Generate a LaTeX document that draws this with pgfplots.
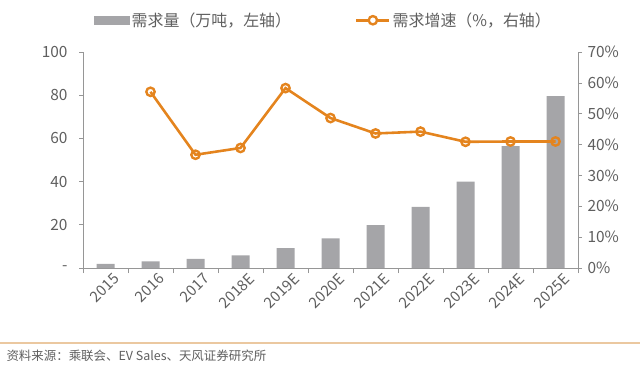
\documentclass[border=0pt]{standalone}
\usepackage{pgfplots}
\pgfplotsset{compat=1.18}
\usepackage{fontspec}
\setmainfont{Noto Sans CJK SC}
\definecolor{barGray}{RGB}{165,165,168}
\definecolor{lineOrange}{RGB}{228,132,30}
\definecolor{txtGray}{RGB}{95,95,95}
\definecolor{axGray}{RGB}{150,150,150}
\definecolor{sepTan}{RGB}{235,200,160}
\begin{document}
\begin{tikzpicture}[x=1bp,y=1bp]
\path[use as bounding box] (0,0) rectangle (640,368);
\begin{axis}[
  at={(83bp,100bp)}, anchor=south west,
  width=495bp, height=216bp, scale only axis,
  xmin=-0.5, xmax=10.5, ymin=0, ymax=100,
  axis x line*=bottom, axis y line*=left,
  axis line style={axGray, line width=0.7pt},
  xtick={0,...,10},
  xticklabels={2015,2016,2017,2018E,2019E,2020E,2021E,2022E,2023E,2024E,2025E},
  major x tick style={draw=none},
  minor xtick={-0.5,0.5,...,10.5},
  minor x tick style={axGray, line width=0.7pt},
  minor tick length=5bp,
  ytick={0,20,40,60,80,100},
  yticklabels={-,20,40,60,80,100},
  y tick style={axGray, line width=0.7pt},
  major tick length=4bp,
  tick align=outside,
  x tick label style={rotate=45, anchor=north east, font=\fontsize{15}{15}\selectfont, text=txtGray, inner sep=1pt, xshift=6bp, yshift=-4bp},
  y tick label style={font=\fontsize{15.5}{15.5}\selectfont, text=txtGray, xshift=-8bp},
  /pgf/number format/assume math mode=true,
  clip=false,
]
\addplot[ybar, bar width=18bp, fill=barGray, draw=none] coordinates {
  (0,1.9) (1,3.1) (2,4.2) (3,5.8) (4,9.2) (5,13.7) (6,19.8) (7,28.3) (8,40.0) (9,56.4) (10,79.6)
};
\end{axis}
\begin{axis}[
  at={(83bp,100bp)}, anchor=south west,
  width=495bp, height=216bp, scale only axis,
  xmin=-0.5, xmax=10.5, ymin=0, ymax=70,
  axis x line=none, axis y line*=right,
  axis line style={axGray, line width=0.7pt},
  ytick={0,10,...,70},
  yticklabel={\pgfmathprintnumber{\tick}\%},
  y tick style={axGray, line width=0.7pt},
  major tick length=4bp,
  tick align=outside,
  y tick label style={font=\fontsize{15.5}{15.5}\selectfont, text=txtGray, xshift=2bp},
  /pgf/number format/assume math mode=true,
  legend columns=2,
  legend style={at={(0.486,1.0)}, anchor=south, yshift=20bp, draw=none, fill=none,
    font=\fontsize{16}{16}\selectfont, text=txtGray,
    /tikz/every even column/.append style={column sep=62bp}},
  legend cell align=left,
  clip=false,
]
\addlegendimage{legend image code/.code={\fill[barGray] (-2bp,-4bp) rectangle (33bp,4bp);}}
\addlegendentry{需求量（万吨，左轴）}
\addplot[lineOrange, line width=2.6pt, mark=o, mark size=4.2pt,
  mark options={fill=white, line width=2.4pt},
  legend image code/.code={\draw[lineOrange, line width=2.6pt] (0bp,0bp) -- (33bp,0bp); \draw[lineOrange, line width=2.4pt, fill=white] (16.5bp,0bp) circle (4.2pt);}]
  coordinates {
  (1,57.1) (2,36.7) (3,38.9) (4,58.3) (5,48.6) (6,43.6) (7,44.2) (8,40.9) (9,41.0) (10,41.0)
};
\addlegendentry{需求增速（\%，右轴）}
\end{axis}
\draw[sepTan, line width=1.4pt] (0,25) -- (640,25);
\node[anchor=west, font=\fontsize{12.5}{12.5}\selectfont, text=txtGray] at (3,12) {资料来源：乘联会、EV Sales、天风证券研究所};
\end{tikzpicture}
\end{document}
